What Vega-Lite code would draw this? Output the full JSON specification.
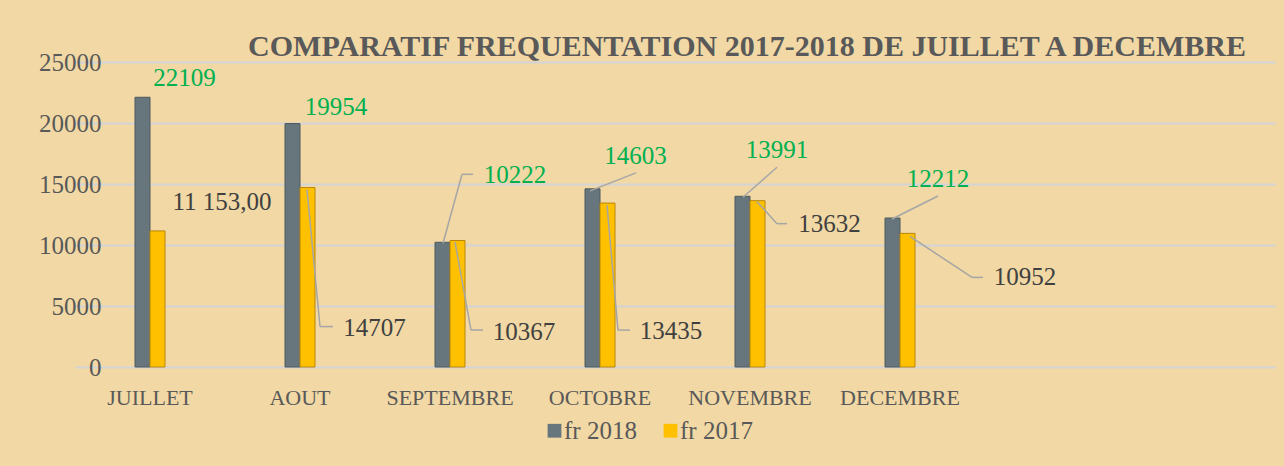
{
  "$schema": "https://vega.github.io/schema/vega-lite/v6.json",
  "width": 1100,
  "height": 305,
  "autosize": {"type": "none"},
  "padding": {"left": 125, "top": 62, "right": 59, "bottom": 99},
  "background": "#f1d8a4",
  "title": {
    "text": "COMPARATIF FREQUENTATION 2017-2018 DE JUILLET A DECEMBRE",
    "font": "Liberation Serif",
    "fontSize": 30,
    "fontWeight": "bold",
    "color": "#595959",
    "anchor": "middle",
    "frame": "group",
    "dx": 72,
    "dy": 41,
    "offset": 5,
    "baseline": "alphabetic"
  },
  "data": {
    "values": [
      {"mois": "JUILLET", "serie": "fr 2018", "valeur": 22109, "etiquette": "22109"},
      {"mois": "JUILLET", "serie": "fr 2017", "valeur": 11153, "etiquette": "11 153,00"},
      {"mois": "AOUT", "serie": "fr 2018", "valeur": 19954, "etiquette": "19954"},
      {"mois": "AOUT", "serie": "fr 2017", "valeur": 14707, "etiquette": "14707"},
      {"mois": "SEPTEMBRE", "serie": "fr 2018", "valeur": 10222, "etiquette": "10222"},
      {"mois": "SEPTEMBRE", "serie": "fr 2017", "valeur": 10367, "etiquette": "10367"},
      {"mois": "OCTOBRE", "serie": "fr 2018", "valeur": 14603, "etiquette": "14603"},
      {"mois": "OCTOBRE", "serie": "fr 2017", "valeur": 13435, "etiquette": "13435"},
      {"mois": "NOVEMBRE", "serie": "fr 2018", "valeur": 13991, "etiquette": "13991"},
      {"mois": "NOVEMBRE", "serie": "fr 2017", "valeur": 13632, "etiquette": "13632"},
      {"mois": "DECEMBRE", "serie": "fr 2018", "valeur": 12212, "etiquette": "12212"},
      {"mois": "DECEMBRE", "serie": "fr 2017", "valeur": 10952, "etiquette": "10952"}
    ]
  },
  "config": {
    "view": {"stroke": null},
    "text": {"font": "Liberation Serif", "fontSize": 25, "align": "center", "baseline": "middle"},
    "rule": {"color": "#a6a6a6", "strokeWidth": 1.5}
  },
  "encoding": {
    "x": {
      "field": "mois",
      "type": "nominal",
      "sort": null,
      "scale": {
        "domain": ["JUILLET", "AOUT", "SEPTEMBRE", "OCTOBRE", "NOVEMBRE", "DECEMBRE", "_vide1", "_vide2"],
        "range": [-50, 1150],
        "paddingInner": 0,
        "paddingOuter": 0
      },
      "axis": {
        "title": null,
        "domain": false,
        "ticks": false,
        "grid": false,
        "labelAngle": 0,
        "labelFont": "Liberation Serif",
        "labelFontSize": 22,
        "labelColor": "#595959",
        "labelPadding": 20,
        "labelExpr": "indexof(datum.label, '_') == 0 ? '' : datum.label"
      }
    },
    "y": {
      "field": "valeur",
      "type": "quantitative",
      "scale": {"domain": [0, 25000], "nice": false},
      "axis": {
        "title": null,
        "domain": false,
        "ticks": false,
        "grid": true,
        "gridColor": "#d3d4d8",
        "gridWidth": 2,
        "values": [0, 5000, 10000, 15000, 20000, 25000],
        "format": "d",
        "labelFont": "Liberation Serif",
        "labelFontSize": 25,
        "labelColor": "#595959",
        "labelPadding": 24
      }
    }
  },
  "layer": [
    {
      "mark": {"type": "bar", "strokeWidth": 1},
      "encoding": {
        "xOffset": {"field": "serie", "type": "nominal", "scale": {"domain": ["fr 2018", "fr 2017"], "range": [60, 90], "paddingInner": 0, "paddingOuter": 0}},
        "color": {
          "field": "serie",
          "type": "nominal",
          "scale": {"domain": ["fr 2018", "fr 2017"], "range": ["#66767c", "#ffc000"]},
          "legend": {
            "title": null,
            "orient": "none",
            "legendX": 417,
            "legendY": 356,
            "direction": "horizontal",
            "symbolType": "square",
            "symbolSize": 190,
            "symbolStrokeWidth": 0,
            "labelFont": "Liberation Serif",
            "labelFontSize": 25,
            "labelColor": "#595959",
            "labelOffset": -3,
            "columnPadding": 21
          }
        },
        "stroke": {
          "field": "serie",
          "type": "nominal",
          "scale": {"domain": ["fr 2018", "fr 2017"], "range": ["#4e5a5f", "#b8860b"]},
          "legend": null
        }
      }
    },
    {"transform": [{"filter": "datum.mois == 'JUILLET' && datum.serie == 'fr 2018'"}], "mark": {"type": "text", "color": "#00b050", "dx": 34.5, "dy": -19}, "encoding": {"text": {"field": "etiquette"}}},
    {"transform": [{"filter": "datum.mois == 'AOUT' && datum.serie == 'fr 2018'"}], "mark": {"type": "text", "color": "#00b050", "dx": 36, "dy": -17}, "encoding": {"text": {"field": "etiquette"}}},
    {"transform": [{"filter": "datum.mois == 'SEPTEMBRE' && datum.serie == 'fr 2018'"}], "mark": {"type": "text", "color": "#00b050", "dx": 65, "dy": -67}, "encoding": {"text": {"field": "etiquette"}}},
    {"transform": [{"filter": "datum.mois == 'OCTOBRE' && datum.serie == 'fr 2018'"}], "mark": {"type": "text", "color": "#00b050", "dx": 35.5, "dy": -33}, "encoding": {"text": {"field": "etiquette"}}},
    {"transform": [{"filter": "datum.mois == 'NOVEMBRE' && datum.serie == 'fr 2018'"}], "mark": {"type": "text", "color": "#00b050", "dx": 27, "dy": -46}, "encoding": {"text": {"field": "etiquette"}}},
    {"transform": [{"filter": "datum.mois == 'DECEMBRE' && datum.serie == 'fr 2018'"}], "mark": {"type": "text", "color": "#00b050", "dx": 38, "dy": -39.5}, "encoding": {"text": {"field": "etiquette"}}},
    {"transform": [{"filter": "datum.mois == 'JUILLET' && datum.serie == 'fr 2017'"}], "mark": {"type": "text", "color": "#404040", "dx": 72, "dy": -29}, "encoding": {"text": {"field": "etiquette"}}},
    {"transform": [{"filter": "datum.mois == 'AOUT' && datum.serie == 'fr 2017'"}], "mark": {"type": "text", "color": "#404040", "dx": 74.5, "dy": 140}, "encoding": {"text": {"field": "etiquette"}}},
    {"transform": [{"filter": "datum.mois == 'SEPTEMBRE' && datum.serie == 'fr 2017'"}], "mark": {"type": "text", "color": "#404040", "dx": 74, "dy": 91}, "encoding": {"text": {"field": "etiquette"}}},
    {"transform": [{"filter": "datum.mois == 'OCTOBRE' && datum.serie == 'fr 2017'"}], "mark": {"type": "text", "color": "#404040", "dx": 71, "dy": 128.4}, "encoding": {"text": {"field": "etiquette"}}},
    {"transform": [{"filter": "datum.mois == 'NOVEMBRE' && datum.serie == 'fr 2017'"}], "mark": {"type": "text", "color": "#404040", "dx": 79.5, "dy": 23}, "encoding": {"text": {"field": "etiquette"}}},
    {"transform": [{"filter": "datum.mois == 'DECEMBRE' && datum.serie == 'fr 2017'"}], "mark": {"type": "text", "color": "#404040", "dx": 125, "dy": 44}, "encoding": {"text": {"field": "etiquette"}}},
    {"transform": [{"filter": "datum.mois == 'SEPTEMBRE' && datum.serie == 'fr 2018'"}], "mark": {"type": "rule", "xOffset": -7, "yOffset": 1, "x2Offset": 12, "y2Offset": -68}, "encoding": {"x2": {"field": "mois"}, "y2": {"field": "valeur"}}},
    {"transform": [{"filter": "datum.mois == 'SEPTEMBRE' && datum.serie == 'fr 2018'"}], "mark": {"type": "rule", "xOffset": 12, "yOffset": -68, "x2Offset": 23, "y2Offset": -68}, "encoding": {"x2": {"field": "mois"}, "y2": {"field": "valeur"}}},
    {"transform": [{"filter": "datum.mois == 'OCTOBRE' && datum.serie == 'fr 2018'"}], "mark": {"type": "rule", "xOffset": -10, "yOffset": 2, "x2Offset": 36, "y2Offset": -16}, "encoding": {"x2": {"field": "mois"}, "y2": {"field": "valeur"}}},
    {"transform": [{"filter": "datum.mois == 'NOVEMBRE' && datum.serie == 'fr 2018'"}], "mark": {"type": "rule", "xOffset": -7, "yOffset": 1, "x2Offset": 27, "y2Offset": -29}, "encoding": {"x2": {"field": "mois"}, "y2": {"field": "valeur"}}},
    {"transform": [{"filter": "datum.mois == 'DECEMBRE' && datum.serie == 'fr 2018'"}], "mark": {"type": "rule", "xOffset": -8, "yOffset": 1, "x2Offset": 38, "y2Offset": -22}, "encoding": {"x2": {"field": "mois"}, "y2": {"field": "valeur"}}},
    {"transform": [{"filter": "datum.mois == 'AOUT' && datum.serie == 'fr 2017'"}], "mark": {"type": "rule", "xOffset": 7, "yOffset": 2, "x2Offset": 20, "y2Offset": 139}, "encoding": {"x2": {"field": "mois"}, "y2": {"field": "valeur"}}},
    {"transform": [{"filter": "datum.mois == 'AOUT' && datum.serie == 'fr 2017'"}], "mark": {"type": "rule", "xOffset": 20, "yOffset": 139, "x2Offset": 33, "y2Offset": 139}, "encoding": {"x2": {"field": "mois"}, "y2": {"field": "valeur"}}},
    {"transform": [{"filter": "datum.mois == 'SEPTEMBRE' && datum.serie == 'fr 2017'"}], "mark": {"type": "rule", "xOffset": 5, "yOffset": 1.5, "x2Offset": 21, "y2Offset": 89.5}, "encoding": {"x2": {"field": "mois"}, "y2": {"field": "valeur"}}},
    {"transform": [{"filter": "datum.mois == 'SEPTEMBRE' && datum.serie == 'fr 2017'"}], "mark": {"type": "rule", "xOffset": 21, "yOffset": 89.5, "x2Offset": 33, "y2Offset": 89.5}, "encoding": {"x2": {"field": "mois"}, "y2": {"field": "valeur"}}},
    {"transform": [{"filter": "datum.mois == 'OCTOBRE' && datum.serie == 'fr 2017'"}], "mark": {"type": "rule", "xOffset": 7, "yOffset": 2, "x2Offset": 18, "y2Offset": 127}, "encoding": {"x2": {"field": "mois"}, "y2": {"field": "valeur"}}},
    {"transform": [{"filter": "datum.mois == 'OCTOBRE' && datum.serie == 'fr 2017'"}], "mark": {"type": "rule", "xOffset": 18, "yOffset": 127, "x2Offset": 30, "y2Offset": 127}, "encoding": {"x2": {"field": "mois"}, "y2": {"field": "valeur"}}},
    {"transform": [{"filter": "datum.mois == 'NOVEMBRE' && datum.serie == 'fr 2017'"}], "mark": {"type": "rule", "xOffset": 7, "yOffset": 1, "x2Offset": 27, "y2Offset": 23}, "encoding": {"x2": {"field": "mois"}, "y2": {"field": "valeur"}}},
    {"transform": [{"filter": "datum.mois == 'NOVEMBRE' && datum.serie == 'fr 2017'"}], "mark": {"type": "rule", "xOffset": 27, "yOffset": 23, "x2Offset": 37, "y2Offset": 23}, "encoding": {"x2": {"field": "mois"}, "y2": {"field": "valeur"}}},
    {"transform": [{"filter": "datum.mois == 'DECEMBRE' && datum.serie == 'fr 2017'"}], "mark": {"type": "rule", "xOffset": 10, "yOffset": 3, "x2Offset": 72, "y2Offset": 44}, "encoding": {"x2": {"field": "mois"}, "y2": {"field": "valeur"}}},
    {"transform": [{"filter": "datum.mois == 'DECEMBRE' && datum.serie == 'fr 2017'"}], "mark": {"type": "rule", "xOffset": 72, "yOffset": 44, "x2Offset": 83, "y2Offset": 44}, "encoding": {"x2": {"field": "mois"}, "y2": {"field": "valeur"}}}
  ]
}
